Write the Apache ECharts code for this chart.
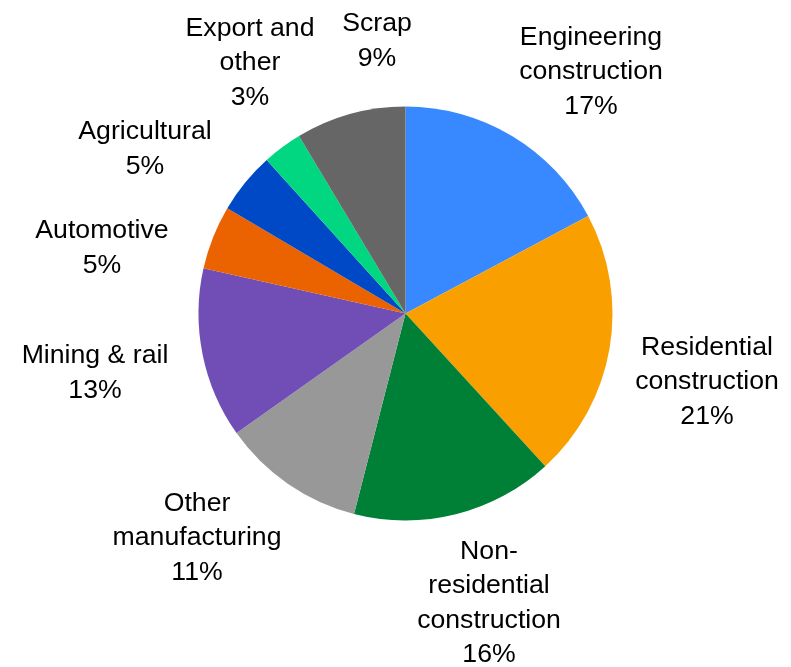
<!DOCTYPE html>
<html>
<head>
<meta charset="utf-8">
<script src="https://cdn.jsdelivr.net/npm/echarts@6/dist/echarts.min.js"></script>
<style>
html,body{margin:0;padding:0;background:#fff;}
#chart{width:791px;height:667px;}
</style>
</head>
<body>
<div id="chart"></div>
<script>
// Data (shares; labels show rounded percentages)
const categories = [
  "Engineering\nconstruction",
  "Residential\nconstruction",
  "Non-\nresidential\nconstruction",
  "Other\nmanufacturing",
  "Mining & rail",
  "Automotive",
  "Agricultural",
  "Export and\nother",
  "Scrap"
];
const shares = [17.2, 21.0, 15.8, 11.2, 13.3, 5.0, 4.8, 3.1, 8.6];
const colors = ["#3888FF", "#F9A000", "#007F37", "#989898", "#704EB5", "#EB6200", "#0049C6", "#00D780", "#666666"];

// Label placement (layout only, label centres in px)
const labelPos = [
  [591, 72], [707, 382], [489, 603], [197, 538], [95, 373],
  [102, 248], [145, 149], [250, 63], [377, 41]
];

const chart = echarts.init(document.getElementById('chart'), null, {renderer: 'canvas'});
chart.setOption({
  animation: false,
  backgroundColor: '#ffffff',
  series: [{
    type: 'pie',
    center: [405.5, 313.5],
    radius: [0, 207],
    startAngle: 90,
    clockwise: true,
    avoidLabelOverlap: false,
    data: categories.map((c, i) => ({name: c, value: shares[i], itemStyle: {color: colors[i]}})),
    itemStyle: {borderWidth: 0},
    label: {
      show: true,
      position: 'outside',
      formatter: p => p.name + '\n' + Math.round(p.value) + '%',
      fontFamily: 'Liberation Sans, Arial, sans-serif',
      fontSize: 26.67,
      lineHeight: 34.5,
      color: '#000000',
      align: 'center'
    },
    labelLine: {show: false},
    labelLayout: function (params) {
      const p = labelPos[params.dataIndex];
      return {x: p[0], y: p[1], align: 'center', verticalAlign: 'middle', hideOverlap: false};
    },
    emphasis: {disabled: true}
  }]
});
</script>
</body>
</html>
